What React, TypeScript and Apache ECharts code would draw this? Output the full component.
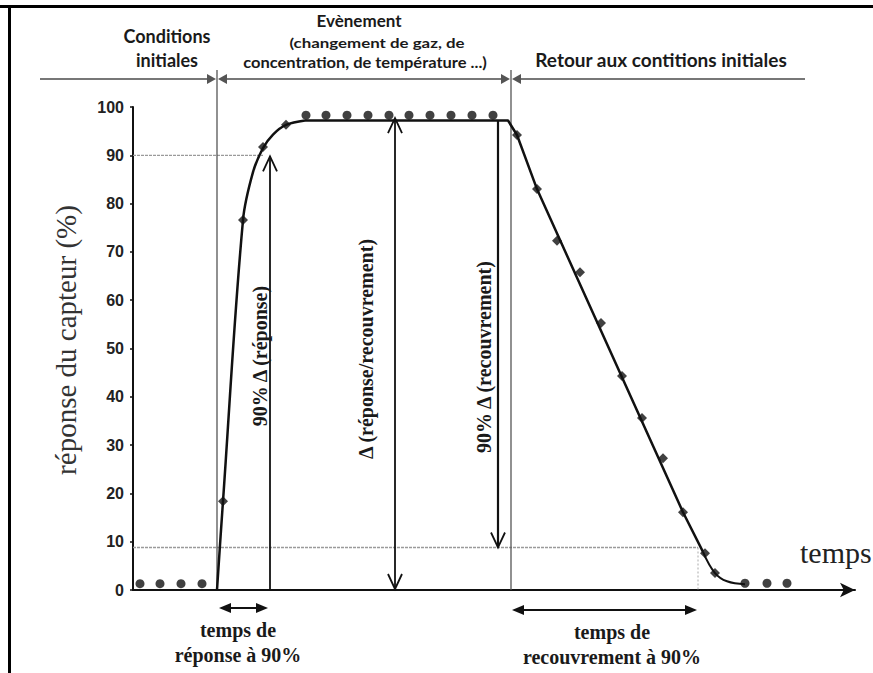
import React, { useEffect, useRef } from "react";
import * as echarts from "echarts";

// ---- data (time in arbitrary units, response in %) ----
const initialT = [0.35, 1.35, 2.4, 3.45];
const initialV = [1.3, 1.3, 1.3, 1.3];
const riseT = [4.5, 5.5, 6.5, 7.65];
const riseV = [18.4, 76.6, 91.7, 96.3];
const plateauT = [8.65, 9.65, 10.7, 11.75, 12.8, 13.8, 14.85, 15.9, 16.95, 18.0];
const plateauV = [98.3, 98.3, 98.3, 98.3, 98.3, 98.3, 98.3, 98.3, 98.3, 98.3];
const decayT = [19.2, 20.2, 21.2, 22.35, 23.4, 24.45, 25.45, 26.5, 27.5, 28.6, 29.1];
const decayV = [94.2, 83, 72.3, 65.8, 55.3, 44.3, 35.6, 27.3, 16.1, 7.6, 3.5];
const finalT = [30.6, 31.7, 32.7];
const finalV = [1.4, 1.4, 1.4];

// fitted curve
const riseCurveT = [4.2, 4.5, 5.5, 6.0, 6.5, 7.0, 7.65, 8.6];
const riseCurveV = [0, 18.4, 76.6, 86.5, 91.5, 94.3, 96.3, 97.2];
const midCurveT = [8.6, 18.75, 19.2, 20.2, 27.5, 28.5];
const midCurveV = [97.2, 97.2, 94.2, 83, 16.1, 7.9];
const tailCurveT = [28.5, 29.1, 29.7, 30.6];
const tailCurveV = [7.9, 3.5, 1.8, 1.2];

const yTicks = [0, 10, 20, 30, 40, 50, 60, 70, 80, 90, 100];

// annotation values
const eventStart = 4.2;
const eventEnd = 18.9;
const level90 = 90;
const level10 = 8.8;
const t90Resp = 6.5;
const t10Rec = 28.25;
const respArrowT = 6.85;
const deltaArrowT = 13.1;
const deltaTop = 97.7;
const recArrowT = 18.25;
const recTop = 97.2;
const respSpan = [4.3, 6.75];
const recSpan = [18.95, 28.2];
const bandSpan = [-4.65, 33.6];

const pair = (t: number[], v: number[]) => t.map((x, i) => [x, v[i]]);

export default function App() {
  const ref = useRef<HTMLDivElement>(null);
  useEffect(() => {
    document.body.style.margin = "0";
    const chart = echarts.init(ref.current!, null, { renderer: "svg" });
    const dark = "#111";
    chart.setOption({
      animation: false,
      backgroundColor: "#fff",
      grid: { left: 133, right: 18, top: 107, bottom: 83 },
      xAxis: {
        type: "value",
        min: 0,
        max: 36.1,
        axisLine: { show: true, symbol: ["none", "arrow"], symbolSize: [11, 15], lineStyle: { color: dark, width: 2 } },
        axisTick: { show: false },
        axisLabel: { show: false },
        splitLine: { show: false },
      },
      yAxis: {
        type: "value",
        min: 0,
        max: 100,
        interval: 10,
        axisLine: { show: true, lineStyle: { color: dark, width: 2 } },
        axisTick: { show: true, length: 3, lineStyle: { color: dark, width: 1.5 } },
        axisLabel: {
          margin: 9,
          color: "#222",
          fontFamily: "Liberation Sans",
          fontWeight: "bold",
          fontSize: 16,
          formatter: (v: number) => (yTicks.includes(v) ? String(v) : ""),
        },
        splitLine: { show: false },
      },
      series: [
        { type: "line", data: pair(riseCurveT, riseCurveV), smooth: 0.35, showSymbol: false, lineStyle: { color: dark, width: 2.5 }, z: 3 },
        { type: "line", data: pair(midCurveT, midCurveV), smooth: false, showSymbol: false, lineStyle: { color: dark, width: 2.5 }, z: 3 },
        { type: "line", data: pair(tailCurveT, tailCurveV), smooth: 0.4, showSymbol: false, lineStyle: { color: dark, width: 2 }, z: 3 },
        { type: "scatter", data: pair(initialT, initialV), symbol: "circle", symbolSize: 9, itemStyle: { color: dark }, z: 4 },
        { type: "scatter", data: pair(riseT, riseV), symbol: "diamond", symbolSize: 10, itemStyle: { color: dark }, z: 4 },
        { type: "scatter", data: pair(plateauT, plateauV), symbol: "circle", symbolSize: 9, itemStyle: { color: dark }, z: 4 },
        { type: "scatter", data: pair(decayT, decayV), symbol: "diamond", symbolSize: 10, itemStyle: { color: dark }, z: 4 },
        { type: "scatter", data: pair(finalT, finalV), symbol: "circle", symbolSize: 9, itemStyle: { color: dark }, z: 4 },
      ],
    });

    const P = (t: number, v: number) => chart.convertToPixel({ gridIndex: 0 }, [t, v]) as number[];
    const X = (t: number) => P(t, 0)[0];
    const Y = (v: number) => P(0, v)[1];
    const y0 = Y(0);

    const g: any[] = [];
    const line = (x1: number, y1: number, x2: number, y2: number, stroke: string, lw: number, dash?: number[]) =>
      g.push({ type: "line", z: 1, shape: { x1, y1, x2, y2 }, style: { stroke, lineWidth: lw, lineDash: dash } });
    const openHead = (x: number, y: number, up: boolean) => {
      const s = up ? 1 : -1;
      g.push({ type: "polyline", z: 5, shape: { points: [[x - 7, y + 15 * s], [x, y], [x + 7, y + 15 * s]] }, style: { stroke: dark, lineWidth: 1.8, fill: null } });
    };
    const fillHead = (x: number, y: number, right: boolean, len: number, half: number, fill: string) => {
      const s = right ? -1 : 1;
      g.push({ type: "polygon", z: 5, shape: { points: [[x, y], [x + len * s, y - half], [x + len * s, y + half]] }, style: { fill } });
    };
    const text = (t: string, x: number, y: number, font: string, opts: any = {}) =>
      g.push({
        type: "text",
        z: 6,
        x,
        y,
        rotation: opts.rotation || 0,
        scaleX: opts.scaleX || 1,
        style: { text: t, font, fill: opts.fill || "#1a1a1a", align: opts.align || "center", verticalAlign: "middle" },
      });

    // frame
    line(0, 6.5, 873, 6.5, "#000", 3);
    line(9.5, 5, 9.5, 673, "#000", 3);

    // dotted reference lines
    line(X(0), Y(level90), X(t90Resp), Y(level90), "#9a9a9a", 1.2, [3, 1]);
    line(X(0), Y(level10), X(t10Rec), Y(level10), "#9a9a9a", 1.6, [3, 1]);
    line(X(t10Rec), Y(level10), X(t10Rec), y0, "#aaaaaa", 1, [2, 2]);

    // event boundaries
    const xs = X(eventStart);
    const xe = X(eventEnd);
    line(xs, 70, xs, y0, "#555", 1.3);
    line(xe, 70, xe, y0, "#555", 1.3);

    // top band with arrows
    const yb = 79;
    const gray = "#555";
    line(X(bandSpan[0]), yb, xs - 4, yb, "#777", 2);
    line(xs + 4, yb, xe - 4, yb, "#777", 2);
    line(xe + 4, yb, X(bandSpan[1]), yb, "#777", 2);
    fillHead(xs - 1, yb, true, 9, 5, gray);
    fillHead(xs + 1, yb, false, 9, 5, gray);
    fillHead(xe - 1, yb, true, 9, 5, gray);
    fillHead(xe + 1, yb, false, 9, 5, gray);

    // vertical arrows
    const xr = X(respArrowT);
    line(xr, y0, xr, Y(level90) + 1, dark, 1.8);
    openHead(xr, Y(level90) + 1, true);
    const xd = X(deltaArrowT);
    line(xd, y0 - 1, xd, Y(deltaTop), dark, 1.8);
    openHead(xd, Y(deltaTop), true);
    openHead(xd, y0 - 1, false);
    const xc = X(recArrowT);
    line(xc, Y(recTop), xc, Y(level10), dark, 2.2);
    openHead(xc, Y(level10), false);

    // bottom spans
    const yl = y0 + 18;
    line(X(respSpan[0]) + 6, yl, X(respSpan[1]) - 6, yl, dark, 2);
    fillHead(X(respSpan[0]), yl, false, 12, 5, dark);
    fillHead(X(respSpan[1]), yl, true, 12, 5, dark);
    const yr = y0 + 20;
    line(X(recSpan[0]) + 6, yr, X(recSpan[1]) - 6, yr, dark, 2);
    fillHead(X(recSpan[0]), yr, false, 12, 5, dark);
    fillHead(X(recSpan[1]), yr, true, 12, 5, dark);

    // texts
    const sansB = (s: number) => `bold ${s}px Lato`;
    const serifB = (s: number) => `bold ${s}px "Liberation Serif"`;
    text("Conditions", 167, 36, sansB(18));
    text("initiales", 167, 60, sansB(18));
    text("Evènement", 359, 20, sansB(17));
    text("(changement de gaz, de", 377, 43, sansB(13), { scaleX: 1.3 });
    text("concentration, de température ...)", 365, 62, sansB(15), { scaleX: 1.1 });
    text("Retour aux contitions initiales", 661, 59, sansB(19));

    const R = Math.PI / 2;
    text("90% Δ (réponse)", xr - 10, 356, serifB(20), { rotation: R });
    text("Δ (réponse/recouvrement)", xd - 29, 349, serifB(20), { rotation: R });
    text("90% Δ (recouvrement)", xc - 14, 357, serifB(20), { rotation: R });

    text("temps de", 238, 630, serifB(20));
    text("réponse à 90%", 238, 655, serifB(20));
    text("temps de", 612, 632, serifB(20));
    text("recouvrement à 90%", 612, 657, serifB(20));

    text("temps", 800, 552, `30px "Liberation Serif"`, { align: "left", fill: "#222" });
    text("réponse du capteur (%)", 66, 340, `29px "Liberation Serif"`, { rotation: R, fill: "#333" });

    chart.setOption({ graphic: g });
    return () => chart.dispose();
  }, []);
  return <div ref={ref} style={{ width: 873, height: 673 }} />;
}
